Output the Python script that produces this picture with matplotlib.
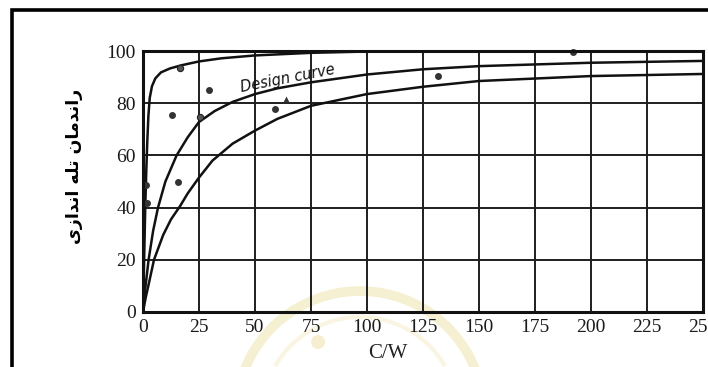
import matplotlib
matplotlib.use("Agg")
import matplotlib.pyplot as plt
from matplotlib.patches import Circle, Arc

# ---- data: trap efficiency (%) versus capacity / watershed ratio ----
cw_upper = [0, 0.5, 1.0, 1.5, 1.9, 2.4, 3.0, 4.0, 5.5, 8, 12, 17, 25, 35, 50, 75, 100, 130, 250]
eff_upper = [0, 20, 40, 55, 65, 75, 82, 86.5, 89.5, 91.8, 93.3, 94.5, 96, 97.2, 98.3, 99.3, 99.8, 100, 100]

cw_design = [0, 1, 2.5, 4.5, 6.7, 10, 15, 20, 25, 32, 40, 50, 60, 75, 100, 125, 150, 200, 250]
eff_design = [0, 9, 20, 31, 40, 50, 60, 67, 72.8, 77, 80.5, 83.5, 85.7, 88, 91, 93, 94.2, 95.5, 96.2]

cw_lower = [0, 1.2, 2.5, 4.9, 9, 12.5, 16.5, 20, 25, 31, 40, 50, 60, 75, 100, 125, 150, 200, 250]
eff_lower = [0, 5.5, 10.5, 20, 29.5, 35.5, 40.5, 45.5, 51.5, 58, 64.5, 69.5, 74, 79, 83.5, 86.3, 88.5, 90.4, 91.2]

obs_x = [1.3, 2.0, 12.8, 15.7, 59, 131.6, 192, 29.5]
obs_y = [48.7, 41.7, 75.5, 49.8, 77.6, 90.4, 99.6, 85]
ring_x = [16.3, 25.4]
ring_y = [93.5, 74.7]
tri_x = [64]
tri_y = [81.6]

x_ticks = [0, 25, 50, 75, 100, 125, 150, 175, 200, 225, 250]
y_ticks = [0, 20, 40, 60, 80, 100]
x_label = "C/W"
y_label = "راندمان تله اندازی"
curve_label = "Design curve"

# ---- minimal Arabic-script shaping (contextual forms, right-to-left) ----
FORMS = {  # isolated, final, initial, medial
    "ا": (0xFE8D, 0xFE8E, None, None),
    "ر": (0xFEAD, 0xFEAE, None, None),
    "د": (0xFEA9, 0xFEAA, None, None),
    "ز": (0xFEAF, 0xFEB0, None, None),
    "ن": (0xFEE5, 0xFEE6, 0xFEE7, 0xFEE8),
    "م": (0xFEE1, 0xFEE2, 0xFEE3, 0xFEE4),
    "ت": (0xFE95, 0xFE96, 0xFE97, 0xFE98),
    "ل": (0xFEDD, 0xFEDE, 0xFEDF, 0xFEE0),
    "ه": (0xFEE9, 0xFEEA, 0xFEEB, 0xFEEC),
    "ی": (0xFBFC, 0xFBFD, 0xFBFE, 0xFBFF),
}


def shape_word(word):
    out = []
    for i, ch in enumerate(word):
        f = FORMS.get(ch)
        if f is None:
            out.append(ch)
            continue
        prev = word[i - 1] if i > 0 else None
        nxt = word[i + 1] if i + 1 < len(word) else None
        join_prev = prev in FORMS and FORMS[prev][2] is not None
        join_next = nxt in FORMS and f[2] is not None
        if join_prev and join_next:
            cp = f[3]
        elif join_prev:
            cp = f[1]
        elif join_next:
            cp = f[2]
        else:
            cp = f[0]
        out.append(chr(cp))
    return "".join(out)


def shape_rtl(text):
    words = [shape_word(w)[::-1] for w in text.split(" ")]
    return " ".join(words[::-1])


# ---- figure ----
W, H = 708, 367
fig = plt.figure(figsize=(W / 100, H / 100), dpi=100)
fig.patch.set_facecolor("white")

# background layer: page frame and faint emblem
bg = fig.add_axes([0, 0, 1, 1], zorder=-5)
bg.set_xlim(0, W)
bg.set_ylim(H, 0)
bg.axis("off")
bg.add_patch(Arc((360, 415), 248, 248, theta1=190, theta2=350,
                 color="#efe2a6", lw=7, alpha=0.5))
bg.add_patch(Arc((360, 415), 196, 196, theta1=210, theta2=330,
                 color="#f3eac0", lw=3, alpha=0.45))
bg.add_patch(Circle((318, 342), 7, color="#eedfa0", alpha=0.5, lw=0))
bg.plot([12, 12, W], [H, 10, 10], color="black", lw=2.6, solid_joinstyle="miter")

ax = fig.add_axes([143 / W, 1 - 312 / H, (703 - 143) / W, (312 - 51) / H])
ax.set_facecolor("none")
ax.set_xlim(0, 250)
ax.set_ylim(0, 100)

ax.set_xticks(x_ticks)
ax.set_yticks(y_ticks)
ax.tick_params(length=0, pad=5, labelsize=14, labelcolor="#1a1a1a")
for lab in ax.get_xticklabels() + ax.get_yticklabels():
    lab.set_family("Liberation Serif")
ax.grid(True, color="#1e1e1e", lw=1.4)
ax.set_axisbelow(True)
for s in ax.spines.values():
    s.set_linewidth(2.2)
    s.set_color("#111111")

line_kw = dict(color="#111111", lw=1.8, solid_capstyle="round", clip_on=True)
ax.plot(cw_upper, eff_upper, **line_kw)
ax.plot(cw_design, eff_design, **line_kw)
ax.plot(cw_lower, eff_lower, **line_kw)

ax.plot(obs_x, obs_y, "o", color="#333333", ms=5, mec="none", clip_on=False)
ax.plot(ring_x, ring_y, "o", mfc="#555555", mec="#222222", ms=4.5, mew=0.8)
ax.plot(tri_x, tri_y, "^", color="#333333", ms=4.5, mec="none")

ax.text(64.5, 89.4, curve_label, rotation=11, ha="center", va="center",
        fontsize=10.5, style="italic", family="DejaVu Sans", color="#111111")

fig.text(388 / W, 1 - 353 / H, x_label, ha="center", va="center",
         fontsize=15, family="Liberation Serif", color="#222222")
fig.text(74 / W, 1 - 166 / H, shape_rtl(y_label), rotation=90,
         ha="center", va="center", fontsize=12.5, fontweight="bold",
         family=["DejaVu Sans"])

fig.savefig("out.png", dpi=100)
